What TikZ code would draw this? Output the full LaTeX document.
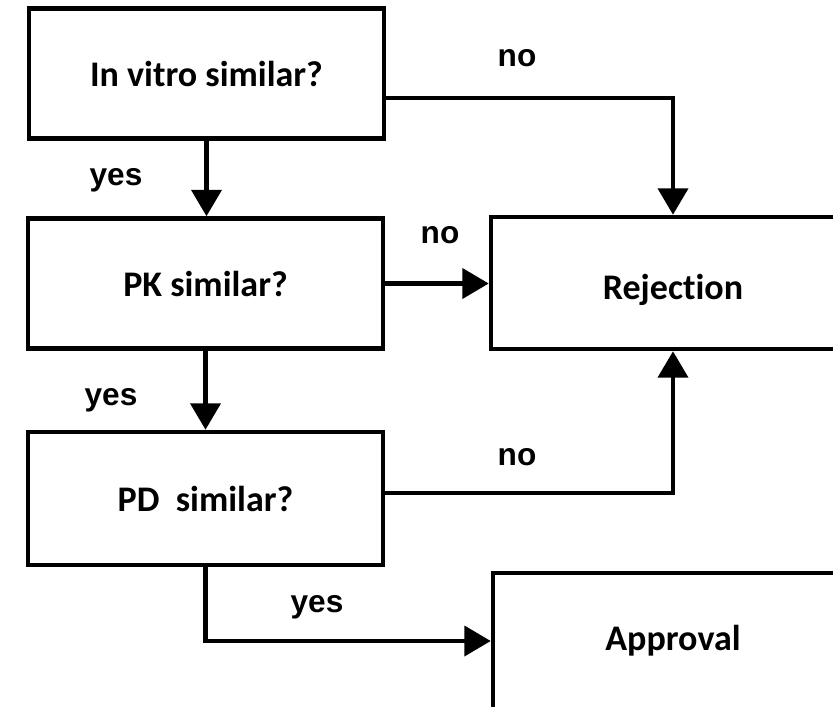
\documentclass[tikz,border=0pt]{standalone}
\usepackage{fontspec}
\setmainfont[Ligatures=NoCommon]{Carlito}
\newfontfamily\tagfont{Liberation Sans}
\usetikzlibrary{arrows.meta,positioning}

\begin{document}
\begin{tikzpicture}[x=0.02cm,y=-0.02cm,
    box/.style={draw,line width=2.6pt,minimum width=7.1cm,minimum height=2.6cm,
      inner sep=0pt,font=\fontsize{20.5}{24}\selectfont\bfseries},
    tag/.style={font=\tagfont\fontsize{18}{21}\selectfont\bfseries},
    arr/.style={-{Triangle[length=15pt,width=17pt]},line width=2.4pt}
  ]
    \useasboundingbox (0,0) rectangle (833,707);
    \clip (0,0) rectangle (833,707);
    % questions
    \node[box] (vitro) at (206.5,73.5) {In vitro similar?};
    \node[box] (pk) at (205.5,283.5) {PK similar?};
    \node[box,minimum height=2.66cm] (pd) at (205.5,498.5) {PD\ \ similar?};
    % outcomes
    \node[box,minimum width=7.28cm,minimum height=2.64cm,text height=23pt,text depth=4.2pt]
      (rej) at (673,283) {Rejection};
    \node[box,minimum width=7.2cm,minimum height=2.72cm] (appr) at (673,641) {Approval};
    % connectors
    \draw[arr] (vitro.south) -- (vitro.south |- pk.north);
    \draw[arr] (pk.south) -- (pk.south |- pd.north);
    \draw[arr] ([yshift=-0.49cm]vitro.east) -| (rej.north);
    \draw[arr] (pk.east) -- (pk.east -| rej.west);
    \draw[arr] ([yshift=0.11cm]pd.east) -| (rej.south);
    \draw[arr] (pd.south) |- (appr.west);
    % labels
    \node[tag] (no1) at (517,58) {no};
    \node[tag] (yes1) at (116,180) {yes};
    \node[tag] (no2) at (440,235) {no};
    \node[tag] (yes2) at (111,400) {yes};
    \node[tag] (no3) at (517,457) {no};
    \node[tag] (yes3) at (317,607) {yes};
\end{tikzpicture}
\end{document}
